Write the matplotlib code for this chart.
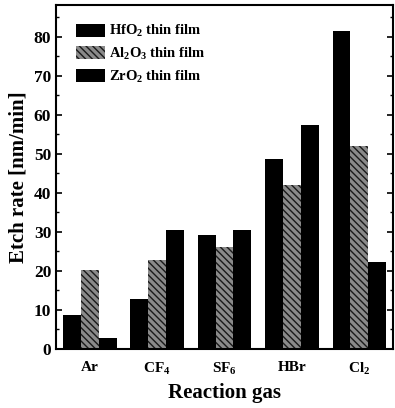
import matplotlib
matplotlib.use("Agg")
import matplotlib.pyplot as plt
import numpy as np
from matplotlib.ticker import MultipleLocator

categories = ["Ar", "CF$_4$", "SF$_6$", "HBr", "Cl$_2$"]
series_names = ["HfO$_2$ thin film", "Al$_2$O$_3$ thin film", "ZrO$_2$ thin film"]
hfo2 = [8.7, 12.9, 29.2, 48.8, 81.5]
al2o3 = [20.1, 22.7, 26.0, 42.0, 52.0]
zro2 = [2.8, 30.6, 30.5, 57.5, 22.2]

plt.rcParams['font.family'] = 'Liberation Serif'
plt.rcParams['font.weight'] = 'bold'
plt.rcParams['mathtext.fontset'] = 'custom'
plt.rcParams['mathtext.rm'] = 'Liberation Serif:bold'
plt.rcParams['mathtext.it'] = 'Liberation Serif:bold'
plt.rcParams['mathtext.bf'] = 'Liberation Serif:bold'
plt.rcParams['mathtext.default'] = 'rm'
plt.rcParams['hatch.linewidth'] = 1.0

fig = plt.figure(figsize=(3.95, 4.08), dpi=100)
ax = fig.add_axes([0.142, 0.145, 0.853, 0.843])

x = np.arange(len(categories))
w = 0.265
ax.bar(x - w, hfo2, w, color='black', label=series_names[0], linewidth=0)
ax.bar(x, al2o3, w, facecolor='#8a8a8a', edgecolor='#1a1a1a', hatch='\\\\\\\\\\', linewidth=0, label=series_names[1])
ax.bar(x + w, zro2, w, color='black', label=series_names[2], linewidth=0)

ax.set_xlim(-0.5, 4.5)
ax.set_ylim(0, 88.2)
ax.set_xticks(x)
ax.set_xticklabels(categories, fontsize=11, fontweight='bold')
ax.tick_params(axis='x', length=0, pad=9)
ax.yaxis.set_major_locator(MultipleLocator(10))
ax.yaxis.set_minor_locator(MultipleLocator(5))
ax.tick_params(axis='y', which='major', direction='in', length=4, width=1.2, labelsize=12.5, right=True)
ax.tick_params(axis='y', which='minor', direction='in', length=2, width=1, right=True)
for lab in ax.get_yticklabels():
    lab.set_fontweight('bold')
for s in ax.spines.values():
    s.set_linewidth(1.5)

ax.set_ylabel("Etch rate [nm/min]", fontsize=15, fontweight='bold', labelpad=4)
ax.set_xlabel("Reaction gas", fontsize=15, fontweight='bold', labelpad=4)

leg = ax.legend(loc='upper left', frameon=False, fontsize=10.5, handlelength=2.0, handleheight=1.0,
                borderaxespad=0.5, labelspacing=0.45, handletextpad=0.25, bbox_to_anchor=(0.02, 0.985))
for t in leg.get_texts():
    t.set_fontweight('bold')

fig.savefig("out.png", dpi=100)
